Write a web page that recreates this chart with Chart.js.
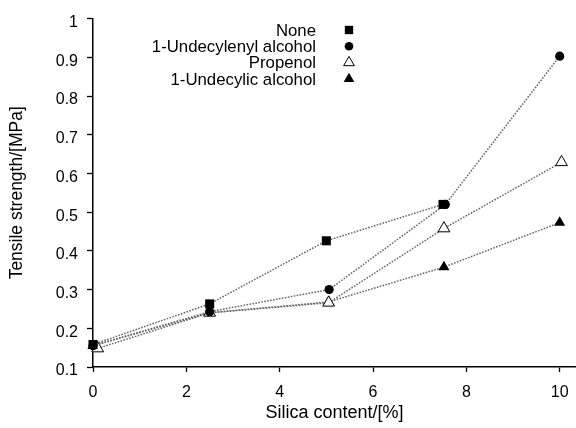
<!DOCTYPE html>
<html><head><meta charset="utf-8">
<script src="https://cdn.jsdelivr.net/npm/chart.js@4/dist/chart.umd.min.js"></script>
<style>html,body{margin:0;padding:0;background:#fff}#wrap{width:576px;height:428px}</style>
</head><body><div id="wrap"><canvas id="c" width="576" height="428"></canvas></div>
<script>
const seriesNames = ["None", "1-Undecylenyl alcohol", "Propenol", "1-Undecylic alcohol"];
const xNone = [0, 2.5, 5, 7.5];
const yNone = [0.158, 0.263, 0.426, 0.52];
const xUndecylenyl = [0, 2.5, 5.06, 7.55, 10];
const yUndecylenyl = [0.155, 0.243, 0.30, 0.52, 0.903];
const xPropenol = [0.1, 2.5, 5.05, 7.52, 10.04];
const yPropenol = [0.148, 0.24, 0.266, 0.458, 0.629];
const xUndecylic = [0, 2.5, 5.05, 7.52, 10];
const yUndecylic = [0.155, 0.24, 0.268, 0.358, 0.473];
const xTicks = [0, 2, 4, 6, 8, 10];
const yTicks = [0.1, 0.2, 0.3, 0.4, 0.5, 0.6, 0.7, 0.8, 0.9, 1];

const pts = (xs, ys) => xs.map((x, i) => ({x, y: ys[i]}));
const FONT = "'Liberation Sans', Arial, sans-serif";
const lineStyle = {borderColor: '#666', borderWidth: 1.5, borderDash: [1.6, 1.4], showLine: true, fill: false, tension: 0, clip: false};

const datasets = [
  Object.assign({label: seriesNames[0], data: pts(xNone, yNone), pointStyle: 'rect', pointRadius: 6.4, backgroundColor: '#000', pointBorderColor: '#000', pointBorderWidth: 0}, lineStyle),
  Object.assign({label: seriesNames[1], data: pts(xUndecylenyl, yUndecylenyl), pointStyle: 'circle', pointRadius: 4.6, backgroundColor: '#000', pointBorderColor: '#000', pointBorderWidth: 0}, lineStyle),
  Object.assign({label: seriesNames[2], data: pts(xPropenol, yPropenol), pointStyle: 'triangle', pointRadius: 6.8, backgroundColor: '#fff', pointBackgroundColor: '#fff', pointBorderColor: '#000', pointBorderWidth: 1}, lineStyle),
  Object.assign({label: seriesNames[3], data: pts(xUndecylic, yUndecylic), pointStyle: 'triangle', pointRadius: 6.4, backgroundColor: '#000', pointBorderColor: '#000', pointBorderWidth: 0}, lineStyle)
];

const legendPlugin = {
  id: 'rightLegend',
  afterDraw(chart) {
    const ctx = chart.ctx;
    ctx.save();
    ctx.font = '16.8px ' + FONT;
    ctx.textAlign = 'right';
    ctx.textBaseline = 'middle';
    chart.data.datasets.forEach((ds, i) => {
      const y = 30 + i * 16.3;
      ctx.fillStyle = '#000';
      ctx.fillText(ds.label, 316, y + 1);
      ctx.fillStyle = ds.pointBackgroundColor || ds.backgroundColor;
      ctx.strokeStyle = ds.pointBorderColor;
      Chart.helpers.drawPoint(ctx, {pointStyle: ds.pointStyle, radius: ds.pointStyle === 'rect' ? 5.9 : (ds.pointStyle === 'circle' ? 4.3 : 6.2), rotation: 0, borderWidth: ds.pointBorderWidth}, 349, y);
    });
    ctx.restore();
  }
};

new Chart(document.getElementById('c'), {
  type: 'scatter',
  data: {datasets},
  plugins: [legendPlugin],
  options: {
    responsive: false,
    animation: false,
    layout: {autoPadding: false, padding: {left: 0, right: 0, top: 15, bottom: 0}},
    plugins: {legend: {display: false}, tooltip: {enabled: false}},
    scales: {
      x: {
        type: 'linear', min: 0, max: 10.35,
        afterBuildTicks: s => { s.ticks = xTicks.map(v => ({value: v})); },
        afterFit: s => { s.height = 61; s.paddingRight = 0; s.paddingLeft = 0; },
        grid: {display: true, drawOnChartArea: false, drawTicks: true, tickLength: 5, tickColor: '#000', tickWidth: 1.3},
        border: {color: '#000', width: 1.5},
        ticks: {color: '#000', font: {family: FONT, size: 16}, padding: 11, maxRotation: 0, callback: v => String(v)},
        title: {display: true, text: 'Silica content/[%]', color: '#000', font: {family: FONT, size: 18}, padding: {top: 0, bottom: 4}}
      },
      y: {
        type: 'linear', min: 0.1, max: 1,
        afterBuildTicks: s => { s.ticks = yTicks.map(v => ({value: v})); },
        afterFit: s => { s.width = 93; },
        grid: {display: true, drawOnChartArea: false, drawTicks: true, tickLength: 6, tickColor: '#000', tickWidth: 1.3},
        border: {color: '#000', width: 1.5},
        ticks: {color: '#000', font: {family: FONT, size: 16}, padding: 9, labelOffset: 4, callback: v => String(Number(v.toFixed(1)))},
        title: {display: true, text: 'Tensile strength/[MPa]', color: '#000', font: {family: FONT, size: 17.5}, padding: {top: 7, bottom: 0}}
      }
    }
  }
});
</script>
</body></html>
